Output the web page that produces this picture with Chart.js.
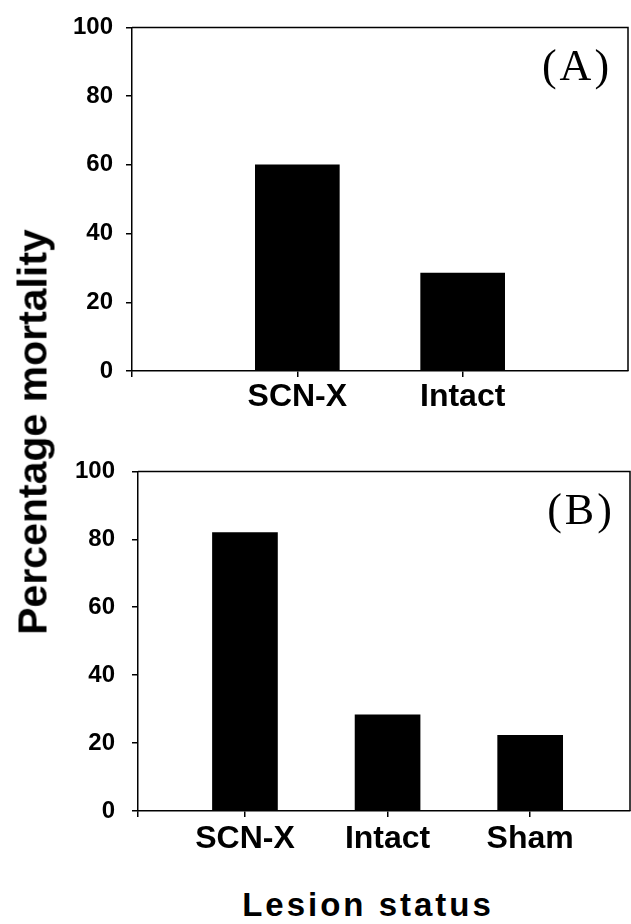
<!DOCTYPE html>
<html>
<head>
<meta charset="utf-8">
<script src="https://cdn.jsdelivr.net/npm/chart.js@4"></script>
<style>
  html, body { margin: 0; padding: 0; background: #fff; }
  #page { position: relative; width: 631px; height: 924px; overflow: hidden; }
  canvas { position: absolute; left: 0; }
  .txt { position: absolute; white-space: nowrap; color: #000; transform: translate(-50%, -50%); }
  .sans { font-family: "Liberation Sans", Arial, sans-serif; font-weight: bold; }
  .serif { font-family: "Liberation Serif", "Times New Roman", serif; font-size: 44px; line-height: 44px; letter-spacing: 3px; }
</style>
</head>
<body>
<div id="page">
  <canvas id="chart-a" width="631" height="430" style="top:0"></canvas>
  <canvas id="chart-b" width="631" height="430" style="top:440px"></canvas>
  <div class="txt serif" style="left:577px;top:66px">(A)</div>
  <div class="txt serif" style="left:581px;top:510px">(B)</div>
  <div class="txt sans" style="left:33px;top:432px;font-size:41px;line-height:41px;transform:translate(-50%,-50%) rotate(-90deg)">Percentage mortality</div>
  <div class="txt sans" style="left:368px;top:904px;font-size:33px;line-height:33px;letter-spacing:3px">Lesion status</div>
</div>
<script>
// ── Data ──
const categoriesA = ['SCN-X', 'Intact'];
const mortalityA = [60, 28.5];
const categoriesB = ['SCN-X', 'Intact', 'Sham'];
const mortalityB = [82, 28.3, 22.3];
const yTicks = [0, 20, 40, 60, 80, 100];

const FONT = '"Liberation Sans", Arial, sans-serif';

// top + right frame lines of the plot box
const frameBox = {
    id: 'frameBox',
    afterDraw(chart) {
        const { ctx, chartArea: a } = chart;
        ctx.save();
        ctx.strokeStyle = '#000';
        ctx.lineWidth = 1.5;
        ctx.beginPath();
        ctx.moveTo(a.left, a.top);
        ctx.lineTo(a.right, a.top);
        ctx.lineTo(a.right, a.bottom);
        ctx.stroke();
        ctx.restore();
    }
};

function makePanel(canvasId, cats, values, cfg) {
    const xTicks = [cfg.xMin].concat(cats.map((c, i) => i + 1));
    return new Chart(document.getElementById(canvasId), {
        type: 'bar',
        data: {
            datasets: [{
                data: values.map((v, i) => ({ x: i + 1, y: v })),
                backgroundColor: '#000',
                borderWidth: 0,
                barThickness: cfg.barThickness
            }]
        },
        options: {
            responsive: false,
            animation: false,
            layout: { padding: { top: 25, right: cfg.padRight, left: 0, bottom: 0 } },
            plugins: { legend: { display: false }, tooltip: { enabled: false } },
            scales: {
                x: {
                    type: 'linear',
                    offset: false,
                    min: cfg.xMin,
                    max: cfg.xMax,
                    afterBuildTicks: (s) => { s.ticks = xTicks.map(v => ({ value: v })); },
                    afterFit: (s) => { s.height = 59; },
                    grid: { offset: false, drawOnChartArea: false, drawTicks: true, tickLength: 6, color: '#000', lineWidth: 1.5 },
                    border: { display: true, color: '#000', width: 1.5 },
                    ticks: {
                        autoSkip: false,
                        maxRotation: 0,
                        padding: cfg.xPad,
                        color: '#000',
                        font: { family: FONT, size: 32, weight: 'bold' },
                        callback: (v) => cats[v - 1] ?? ''
                    }
                },
                y: {
                    min: 0,
                    max: 100,
                    afterBuildTicks: (s) => { s.ticks = yTicks.map(v => ({ value: v })); },
                    afterFit: (s) => { s.width = cfg.yWidth; },
                    grid: { drawOnChartArea: false, drawTicks: true, tickLength: 6, color: '#000', lineWidth: 1.5 },
                    border: { display: true, color: '#000', width: 1.5 },
                    ticks: {
                        padding: cfg.yPad,
                        color: '#000',
                        font: { family: FONT, size: 24, weight: 'bold' }
                    }
                }
            }
        },
        plugins: [frameBox]
    });
}

makePanel('chart-a', categoriesA, mortalityA, {
    xMin: 0, xMax: 3, barThickness: 84, padRight: 3, yWidth: 132, yPad: 13, xPad: 1
});
makePanel('chart-b', categoriesB, mortalityB, {
    xMin: 0.25, xMax: 3.7, barThickness: 65, padRight: 1, yWidth: 138, yPad: 17, xPad: 3
});
</script>
</body>
</html>
